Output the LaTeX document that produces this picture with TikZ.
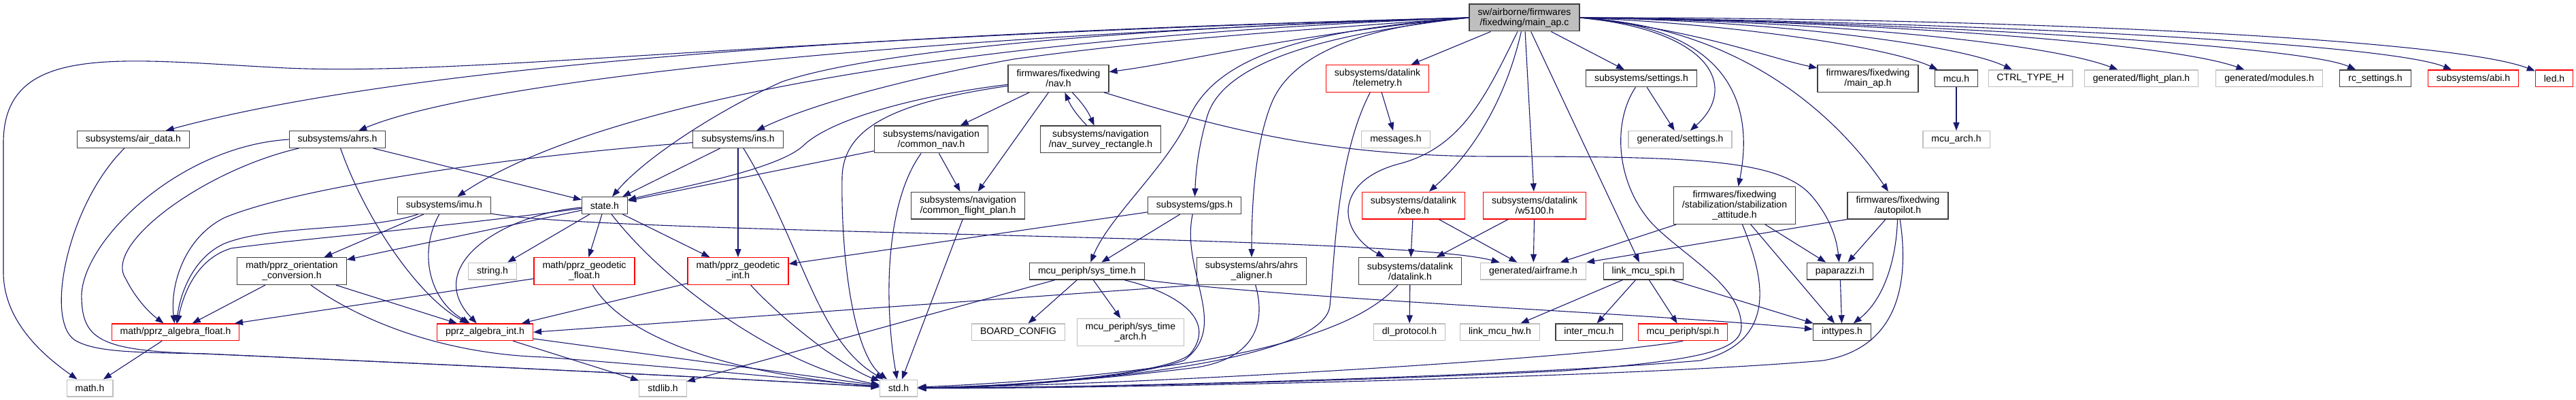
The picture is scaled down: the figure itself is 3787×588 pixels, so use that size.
\documentclass[tikz,border=0pt]{standalone}
\usepackage{fontspec}
\setmainfont{Liberation Sans}
\usetikzlibrary{arrows.meta}

\definecolor{edgeblue}{HTML}{191970}
\definecolor{extgrey}{HTML}{BFBFBF}
\definecolor{truncred}{HTML}{FF0000}
\definecolor{docgrey}{HTML}{404040}

\begin{document}
\begin{tikzpicture}[
  x=1pt, y=-1pt,
  >={Triangle[length=12pt,width=9pt]},
  filebox/.style={rectangle,font=\fontsize{14}{15}\selectfont,align=center,
    inner xsep=12.5pt,inner ysep=2pt,minimum height=24.8pt,line width=1.2pt},
  docbox/.style={filebox,draw=docgrey},
  extbox/.style={filebox,draw=extgrey},
  truncbox/.style={filebox,draw=truncred},
  rootbox/.style={filebox,draw=docgrey,fill=extgrey},
  two/.style={minimum height=39.8pt},
  three/.style={minimum height=54.9pt},
  edge/.style={->,draw=edgeblue,line width=1.1pt},
]
\useasboundingbox (0,0) rectangle (3787,588);

% ===================================================================
% LAYER 1: file nodes, row by row
% ===================================================================
\node[rootbox,two] (root) at (2241,26) {sw/airborne/firmwares\\/fixedwing/main\_ap.c};

% row 1
\node[docbox,two]   (nav)         at (1556,115.4) {firmwares/fixedwing\\/nav.h};
\node[truncbox,two] (telemetry)   at (2025,115.4) {subsystems/datalink\\/telemetry.h};
\node[docbox]       (settings)    at (2413,115.4) {subsystems/settings.h};
\node[docbox,two]   (mainaph)     at (2746,115.4) {firmwares/fixedwing\\/main\_ap.h};
\node[docbox]       (mcu)         at (2876,115.4) {mcu.h};
\node[extbox]       (ctrltype)    at (2985,115.4) {CTRL\_TYPE\_H};
\node[extbox]       (flightplanh) at (3148,115.4) {generated/flight\_plan.h};
\node[extbox]       (modules)     at (3336,115.4) {generated/modules.h};
\node[docbox]       (rcsettings)  at (3492,115.4) {rc\_settings.h};
\node[truncbox]     (abi)         at (3636,115.4) {subsystems/abi.h};
\node[truncbox]     (led)         at (3755,115.4) {led.h};

% row 2
\node[docbox]     (airdata)     at (196,205)  {subsystems/air\_data.h};
\node[docbox]     (ahrs)        at (496,205)  {subsystems/ahrs.h};
\node[docbox]     (ins)         at (1085,205) {subsystems/ins.h};
\node[docbox,two] (commonnav)   at (1369,205) {subsystems/navigation\\/common\_nav.h};
\node[docbox,two] (survey)      at (1618,205) {subsystems/navigation\\/nav\_survey\_rectangle.h};
\node[extbox]     (messages)    at (2052,205) {messages.h};
\node[extbox]     (gensettings) at (2470,205) {generated/settings.h};
\node[extbox]     (mcuarch)     at (2876,205) {mcu\_arch.h};

% row 3
\node[docbox]       (imu)       at (653,302)  {subsystems/imu.h};
\node[docbox]       (state)     at (889,302)  {state.h};
\node[docbox,two]   (cfp)       at (1423,302) {subsystems/navigation\\/common\_flight\_plan.h};
\node[docbox]       (gps)       at (1756,302) {subsystems/gps.h};
\node[truncbox,two] (xbee)      at (2078,302) {subsystems/datalink\\/xbee.h};
\node[truncbox,two] (w5100)     at (2256,302) {subsystems/datalink\\/w5100.h};
\node[docbox,three] (stabatt)   at (2550,302) {firmwares/fixedwing\\/stabilization/stabilization\\\_attitude.h};
\node[docbox,two]   (autopilot) at (2790,302) {firmwares/fixedwing\\/autopilot.h};

% row 4
\node[docbox,two]   (orient)    at (429,398.6)  {math/pprz\_orientation\\\_conversion.h};
\node[extbox]       (stringh)   at (724,398.6)  {string.h};
\node[truncbox,two] (geofloat)  at (859,398.6)  {math/pprz\_geodetic\\\_float.h};
\node[truncbox,two] (geoint)    at (1085,398.6) {math/pprz\_geodetic\\\_int.h};
\node[docbox]       (systime)   at (1598,398.6) {mcu\_periph/sys\_time.h};
\node[docbox,two]   (aligner)   at (1840,398.6) {subsystems/ahrs/ahrs\\\_aligner.h};
\node[docbox,two]   (datalink)  at (2073,398.6) {subsystems/datalink\\/datalink.h};
\node[extbox]       (airframe)  at (2254,398.6) {generated/airframe.h};
\node[docbox]       (linkspi)   at (2416,398.6) {link\_mcu\_spi.h};
\node[docbox]       (paparazzi) at (2705,398.6) {paparazzi.h};

% row 5
\node[truncbox]   (algfloat)    at (258,488.3)  {math/pprz\_algebra\_float.h};
\node[truncbox]   (algint)      at (713,488.3)  {pprz\_algebra\_int.h};
\node[extbox]     (boardcfg)    at (1497,488.3) {BOARD\_CONFIG};
\node[extbox,two] (systimearch) at (1662,488.3) {mcu\_periph/sys\_time\\\_arch.h};
\node[extbox]     (dlproto)     at (2072,488.3) {dl\_protocol.h};
\node[extbox]     (linkhw)      at (2205,488.3) {link\_mcu\_hw.h};
\node[docbox]     (intermcu)    at (2336,488.3) {inter\_mcu.h};
\node[truncbox]   (spi)         at (2474,488.3) {mcu\_periph/spi.h};
\node[docbox]     (inttypes)    at (2708,488.3) {inttypes.h};

% row 6
\node[extbox] (math)   at (132,570.5)   {math.h};
\node[extbox] (stdlib) at (974.5,570.5) {stdlib.h};
\node[extbox] (std)    at (1321,570.5)  {std.h};

% ===================================================================
% LAYER 2: straight includes
% ===================================================================
\foreach \src/\dst in {root/telemetry, root/w5100, root/linkspi, root/settings,
    telemetry/messages, settings/gensettings, mcu/mcuarch,
    xbee/datalink, xbee/airframe, w5100/datalink, w5100/airframe, datalink/dlproto,
    linkspi/linkhw, linkspi/intermcu, linkspi/spi, linkspi/inttypes,
    stabatt/airframe, stabatt/paparazzi, stabatt/inttypes,
    autopilot/paparazzi, paparazzi/inttypes,
    nav/commonnav, nav/cfp, commonnav/cfp, commonnav/state, cfp/std,
    gps/systime, gps/geoint, systime/boardcfg, systime/systimearch, systime/stdlib,
    ins/state, ins/geoint, ahrs/state, imu/orient,
    state/stringh, state/geofloat, state/geoint, state/orient,
    orient/algfloat, orient/algint, geofloat/algfloat, geoint/algint,
    algfloat/math, algint/stdlib, algint/std}
  \draw[edge] (\src) -- (\dst);

\draw[edge] (aligner.south west) -- (algint.east);
\draw[edge] (autopilot.south west) -- (airframe.north east);
\draw[edge] (nav) to[bend left=10] (survey);
\draw[edge] (survey) to[bend left=10] (nav);

% ===================================================================
% LAYER 3: main_ap.c, left side
% ===================================================================
\draw[edge] (root.west) .. controls (1100,55) and (700,112) .. (420,100)
  .. controls (180,88) and (5,60) .. (5,210) -- (5,400)
  .. controls (5,470) and (60,520) .. (math);
\draw[edge] (root.west) .. controls (1300,48) and (600,95) .. (airdata);
\draw[edge] (root.west) .. controls (1300,55) and (700,120) .. (ahrs);
\draw[edge] (root.west) .. controls (1300,60) and (850,170) .. (imu);
\draw[edge] (root.west) .. controls (1700,40) and (1300,70) .. (1150,120)
  .. controls (1060,160) and (950,230) .. (state);
\draw[edge] (root.west) .. controls (1900,45) and (1700,58) .. (1490,87)
  .. controls (1350,112) and (1200,150) .. (ins);
\draw[edge] (root.west) .. controls (1900,50) and (1750,90) .. (nav);
\draw[edge] (root.west) .. controls (1950,50) and (1800,90) .. (1775,170)
  .. controls (1762,215) and (1758,250) .. (gps);
\draw[edge] (root.west) .. controls (1900,45) and (1780,90) .. (1745,180)
  .. controls (1710,250) and (1630,320) .. (systime);
\draw[edge] (root.west) .. controls (2000,40) and (1900,80) .. (1870,150)
  .. controls (1845,210) and (1840,300) .. (aligner);
\draw[edge] (root) .. controls (2185,140) and (2150,215) .. (2060,240)
  .. controls (1960,265) and (1965,340) .. (datalink);
\draw[edge] (root) .. controls (2215,140) and (2170,220) .. (xbee);

% ===================================================================
% LAYER 4: main_ap.c, right side
% ===================================================================
\draw[edge] (root.east) .. controls (2520,45) and (2555,130) .. (gensettings);
\draw[edge] (root.east) .. controls (2540,40) and (2580,150) .. (stabatt);
\draw[edge] (root.east) .. controls (2560,40) and (2700,170) .. (autopilot);
\draw[edge] (root.east) .. controls (2500,45) and (2600,85) .. (mainaph);
\draw[edge] (root.east) .. controls (2550,35) and (2780,70) .. (mcu);
\draw[edge] (root.east) .. controls (2600,30) and (2880,65) .. (ctrltype);
\draw[edge] (root.east) .. controls (2650,30) and (3000,60) .. (flightplanh);
\draw[edge] (root.east) .. controls (2700,30) and (3180,60) .. (modules);
\draw[edge] (root.east) .. controls (2750,30) and (3380,65) .. (rcsettings);
\draw[edge] (root.east) .. controls (2800,30) and (3500,60) .. (abi);
\draw[edge] (root.east) .. controls (2900,25) and (3600,55) .. (led);

% ===================================================================
% LAYER 5: curved includes between headers
% ===================================================================
\draw[edge] (nav) .. controls (1800,190) and (1950,230) .. (2200,230)
  .. controls (2500,230) and (2620,235) .. (2665,290)
  .. controls (2690,320) and (2700,350) .. (paparazzi);
\draw[edge] (nav) .. controls (1350,140) and (1220,175) .. (1180,215)
  .. controls (1140,250) and (1000,275) .. (state);
\draw[edge] (ahrs) .. controls (300,250) and (150,360) .. (185,410)
  .. controls (200,440) and (220,460) .. (algfloat);
\draw[edge] (ahrs) .. controls (540,330) and (620,440) .. (algint);
\draw[edge] (imu) .. controls (540,340) and (400,330) .. (330,358)
  .. controls (285,378) and (265,430) .. (algfloat);
\draw[edge] (imu) .. controls (615,370) and (630,440) .. (algint);
\draw[edge] (imu) .. controls (900,345) and (2050,345) .. (airframe);
\draw[edge] (ins) .. controls (800,225) and (450,270) .. (330,320)
  .. controls (270,350) and (250,420) .. (algfloat);
\draw[edge] (state) .. controls (600,340) and (450,350) .. (340,365)
  .. controls (290,380) and (270,430) .. (algfloat);
\draw[edge] (state) .. controls (740,315) and (620,390) .. (algint);
\draw[edge] (systime.south east) .. controls (1900,440) and (2450,462) .. (inttypes);
\draw[edge] (autopilot) .. controls (2788,380) and (2770,440) .. (inttypes);

% ===================================================================
% LAYER 6: everything that ends in std.h
% ===================================================================
\draw[edge] (airdata) .. controls (100,300) and (65,470) .. (110,500)
  .. controls (140,518) and (200,518) .. (300,520)
  .. controls (700,538) and (1000,552) .. (std);
\draw[edge] (ahrs.west) .. controls (260,215) and (115,360) .. (120,440)
  .. controls (122,500) and (150,516) .. (300,520)
  .. controls (700,538) and (1000,552) .. (std);
\draw[edge] (orient) .. controls (520,465) and (640,520) .. (800,525)
  .. controls (1000,540) and (1200,560) .. (std);
\draw[edge] (state) .. controls (980,420) and (1150,540) .. (std);
\draw[edge] (geofloat) .. controls (920,500) and (1080,550) .. (std);
\draw[edge] (geoint) .. controls (1150,470) and (1240,540) .. (std);
\draw[edge] (ins) .. controls (1180,360) and (1200,500) .. (std);
\draw[edge] (nav) .. controls (1320,150) and (1240,185) .. (1238,260)
  .. controls (1236,380) and (1255,520) .. (std);
\draw[edge] (commonnav) .. controls (1300,300) and (1300,450) .. (std);
\draw[edge] (gps) .. controls (1735,400) and (1810,480) .. (1740,530)
  .. controls (1650,560) and (1450,570) .. (std);
\draw[edge] (systime) .. controls (1730,430) and (1790,470) .. (1750,520)
  .. controls (1720,550) and (1500,568) .. (std);
\draw[edge] (aligner) .. controls (1860,470) and (1850,525) .. (1760,540)
  .. controls (1600,560) and (1450,570) .. (std);
\draw[edge] (telemetry) .. controls (1965,230) and (1962,380) .. (1955,450)
  .. controls (1945,530) and (1600,565) .. (std);
\draw[edge] (datalink) .. controls (2010,470) and (1880,545) .. (std);
\draw[edge] (spi.south) .. controls (2350,525) and (1700,565) .. (std);
\draw[edge] (settings) .. controls (2370,180) and (2375,270) .. (2430,330)
  .. controls (2480,380) and (2560,420) .. (2560,480)
  .. controls (2560,515) and (2500,530) .. (2300,545)
  .. controls (1900,565) and (1500,570) .. (std);
\draw[edge] (stabatt) .. controls (2590,400) and (2620,500) .. (2500,530)
  .. controls (2200,555) and (1600,570) .. (std);
\draw[edge] (autopilot) .. controls (2805,400) and (2800,510) .. (2680,530)
  .. controls (2400,555) and (1600,572) .. (std);

\end{tikzpicture}
\end{document}
